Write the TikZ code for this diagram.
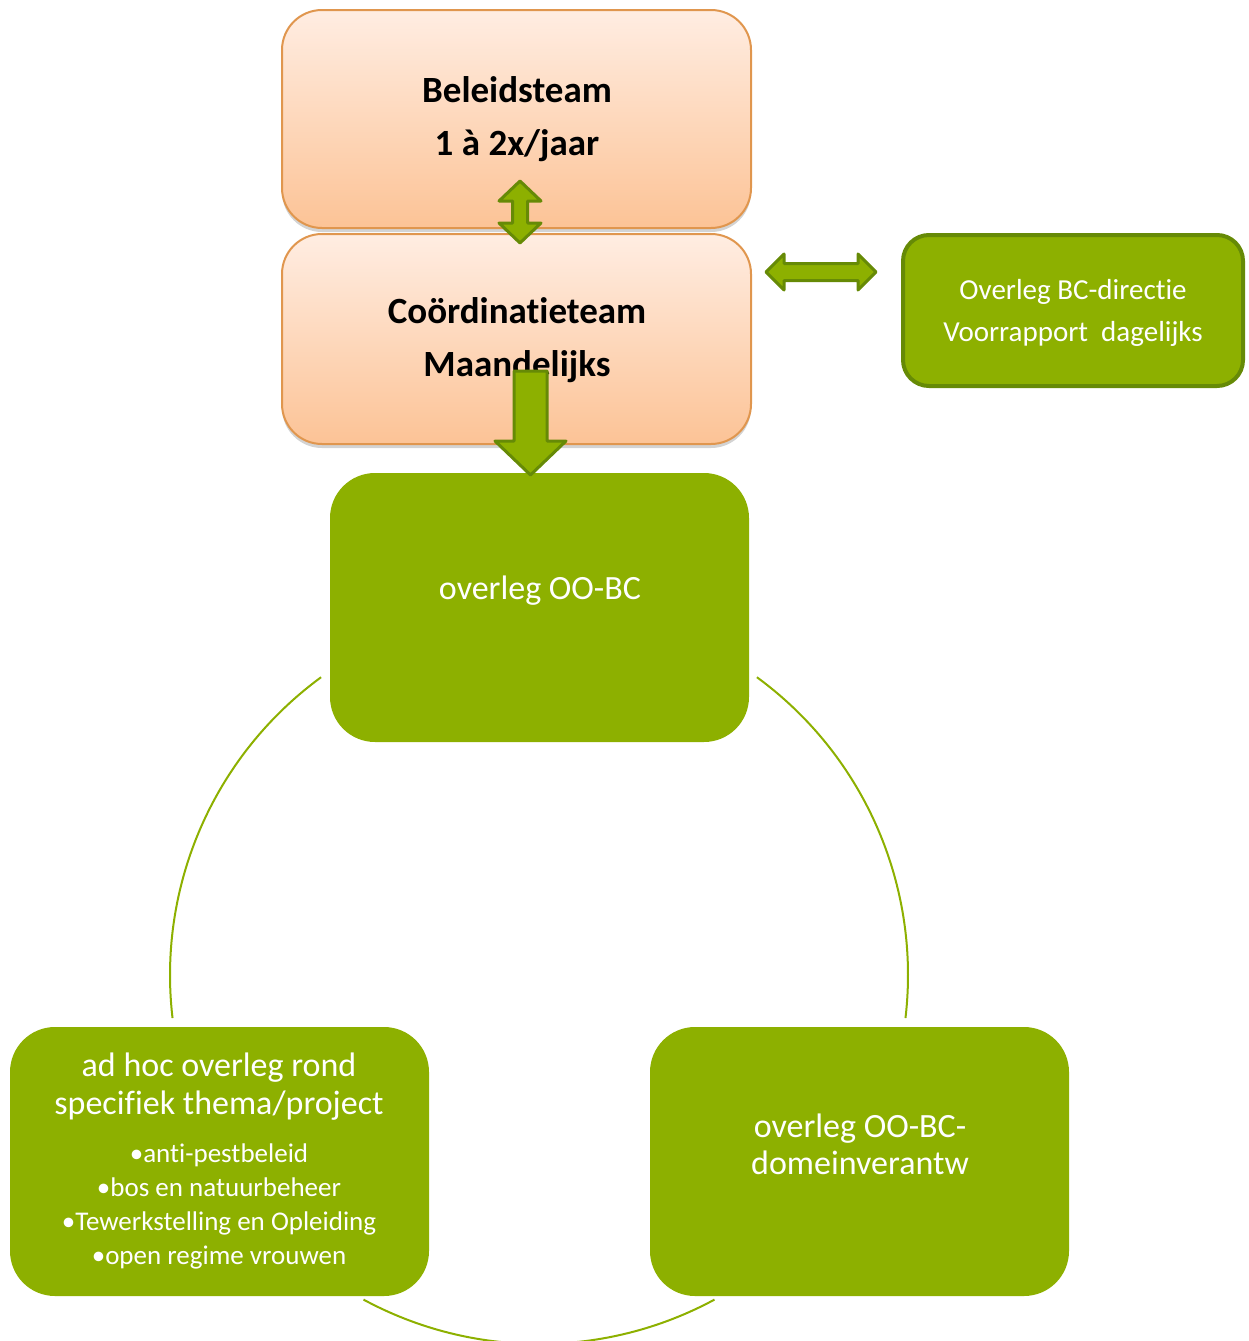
\documentclass[tikz,border=0pt]{standalone}
\usepackage{fontspec}
\setmainfont{Carlito}[Ligatures={NoCommon}]
\usetikzlibrary{shadows}
\definecolor{gfill}{RGB}{141,176,0}
\definecolor{gdark}{RGB}{102,138,6}
\definecolor{otop}{RGB}{255,237,226}
\definecolor{obot}{RGB}{252,195,150}
\definecolor{oborder}{RGB}{224,150,78}
\begin{document}
\begin{tikzpicture}[x=1pt,y=-1pt,
  orangebox/.style={draw=oborder, line width=2pt, rounded corners=40pt, top color=otop, bottom color=obot,
    drop shadow={shadow xshift=0pt, shadow yshift=-4pt, opacity=0.35}, inner sep=0pt},
  greenbox/.style={fill=gfill, rounded corners=45pt, inner sep=0pt},
  blockarrow/.style={fill=gfill, draw=gdark, line width=3pt, line join=round},
  arcline/.style={draw=gfill, line width=2pt},
  btext/.style={font=\fontsize{37}{53}\selectfont\bfseries, align=center, text=black, inner sep=0pt},
  wtext/.style={text=white, align=center, inner sep=0pt}
]
\useasboundingbox (0,0) rectangle (1248,1341);

% cycle arcs
\coordinate (C) at (539,975);
\draw[arcline] (C) ++(-53.8:369) arc[start angle=-53.8, end angle=6.7, radius=369];
\draw[arcline] (C) ++(61.6:369) arc[start angle=61.6, end angle=118.4, radius=369];
\draw[arcline] (C) ++(173.3:369) arc[start angle=173.3, end angle=233.8, radius=369];

% green boxes
\node[greenbox, minimum width=419pt, minimum height=269pt] (oobc) at (539.5,607.5) {};
\node[greenbox, minimum width=419pt, minimum height=269pt] (adhoc) at (219.5,1161.5) {};
\node[greenbox, minimum width=419pt, minimum height=269pt] (domein) at (859.5,1161.5) {};
\node[fill=gfill, draw=gdark, line width=4pt, rounded corners=26pt, inner sep=0pt,
      minimum width=340pt, minimum height=151pt] (bcdir) at (1073,310.5) {};

% orange boxes
\node[orangebox, minimum width=469pt, minimum height=218pt] (beleid) at (516.5,119) {};
\node[orangebox, minimum width=469pt, minimum height=210pt] (coord) at (516.5,339) {};

% texts
\node[btext] (beleidtxt) at (517,119.5) {Beleidsteam\\1 à 2x/jaar};
\node[btext] (coordtxt) at (517,340) {Coördinatieteam\\Maandelijks};
\node[wtext, font=\fontsize{29}{42}\selectfont] (bcdirtxt) at (1073,312.5) {Overleg BC-directie\\Voorrapport\ \ dagelijks};
\node[wtext, font=\fontsize{34}{38}\selectfont] (oobctxt) at (540,591) {overleg OO-BC};
\node[wtext, font=\fontsize{34}{38}\selectfont] (adhoctitle) at (219,1087) {ad hoc overleg rond\\specifiek thema/project};
\node[wtext, font=\fontsize{27}{34}\selectfont] (adhoclist) at (219,1206) {•anti-pestbeleid\\•bos en natuurbeheer\\•Tewerkstelling en Opleiding\\•open regime vrouwen};
\node[wtext, font=\fontsize{34}{37}\selectfont] (domeintxt) at (860,1144) {overleg OO-BC-\\domeinverantw};

% block arrows
\draw[blockarrow] (520,181) -- (541,201) -- (527.5,201) -- (527.5,223) -- (541,223) -- (520,243)
  -- (499,223) -- (512.5,223) -- (512.5,201) -- (499,201) -- cycle;
\draw[blockarrow] (766,272) -- (784,254) -- (784,263.5) -- (858,263.5) -- (858,254) -- (876,272)
  -- (858,290) -- (858,280.5) -- (784,280.5) -- (784,290) -- cycle;
\draw[blockarrow] (514,371) -- (547,371) -- (547,441) -- (566,441) -- (530.5,475) -- (495,441) -- (514,441) -- cycle;
\end{tikzpicture}
\end{document}
